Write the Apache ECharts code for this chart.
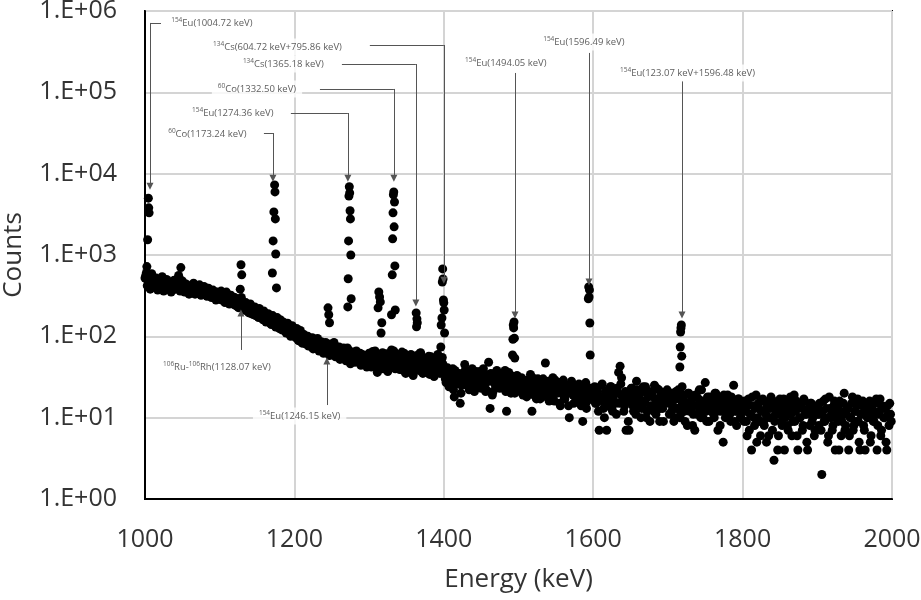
<!DOCTYPE html>
<html>
<head>
<meta charset="utf-8">
<title>Gamma spectrum 1000-2000 keV</title>
<script src="https://cdn.jsdelivr.net/npm/echarts@6/dist/echarts.min.js"></script>
<style>
    html, body { margin: 0; padding: 0; background: #fff; }
    #chart { width: 921px; height: 600px; }
</style>
</head>
<body>
<div id="chart"></div>
<script>
    // continuum counts, one point every 2 keV, arrays named by their first energy
    const bg1000 = [520, 610, 480, 560, 470, 450, 430, 490, 420, 460,
        440, 400, 470, 430, 410, 450, 390, 440, 420, 380,
        430, 460, 400, 520, 700, 480, 410, 380, 420, 370,
        400, 360, 390, 410, 350, 380, 340, 370, 390, 360,
        340, 380, 350, 330, 360, 340, 310, 350, 330, 300];
    const bg1001 = [560, 420, 500, 380, 590, 440, 400, 520, 370, 480,
        410, 540, 360, 450, 500, 390, 470, 350, 430, 490,
        380, 420, 560, 360, 460, 400, 350, 440, 390, 330,
        420, 370, 450, 330, 400, 360, 430, 320, 380, 410,
        350, 310, 390, 360, 300, 370, 330, 280, 350, 310];
    const bg1100 = [320, 360, 290, 340, 280, 320, 265, 305, 285, 250,
        300, 240, 275, 255, 230, 265, 215, 250, 225, 200,
        240, 190, 225, 205, 180, 215, 170, 200, 185, 160,
        195, 150, 180, 165, 145, 175, 150, 135, 165, 140,
        125, 155, 130, 145, 115, 140, 120, 105, 130, 110];
    const bg1101 = [340, 280, 310, 260, 350, 290, 250, 320, 270, 300,
        240, 285, 225, 265, 300, 235, 210, 260, 230, 195,
        250, 215, 185, 230, 200, 175, 220, 190, 165, 205,
        180, 155, 190, 170, 140, 180, 155, 130, 170, 145,
        160, 120, 150, 135, 110, 145, 125, 100, 135, 115];
    const bg1200 = [122, 96, 112, 88, 118, 84, 104, 92, 80, 100,
        88, 76, 96, 80, 72, 90, 78, 68, 86, 74,
        66, 84, 72, 62, 80, 68, 60, 78, 66, 58,
        74, 62, 56, 72, 60, 68, 54, 66, 58, 52,
        64, 54, 60, 50, 62, 56, 48, 58, 52, 55];
    const bg1201 = [108, 125, 90, 110, 95, 82, 105, 88, 96, 76,
        92, 84, 70, 88, 78, 94, 66, 80, 72, 62,
        82, 70, 76, 58, 74, 64, 84, 56, 68, 62,
        52, 70, 60, 64, 50, 72, 58, 46, 62, 55,
        48, 66, 52, 58, 44, 60, 50, 54, 42, 58];
    const bg1300 = [62, 48, 57, 44, 66, 52, 38, 55, 49, 63,
        45, 56, 40, 58, 50, 68, 43, 52, 60, 41,
        54, 47, 64, 38, 56, 42, 52, 48, 60, 36,
        50, 44, 58, 40, 62, 46, 35, 54, 42, 48,
        57, 38, 46, 34, 52, 44, 60, 36, 48, 55];
    const bg1301 = [55, 42, 65, 47, 51, 36, 59, 45, 54, 40,
        48, 61, 37, 56, 44, 52, 66, 40, 49, 58,
        39, 53, 46, 62, 35, 50, 57, 43, 48, 33,
        55, 45, 51, 38, 63, 46, 36, 53, 41, 49,
        34, 56, 44, 32, 51, 40, 47, 35, 52, 45];
    const bg1400 = [42, 30, 38, 26, 34, 24, 40, 18, 35, 28,
        31, 15, 25, 33, 45, 28, 36, 22, 32, 40,
        27, 34, 24, 30, 37, 23, 29, 35, 21, 31,
        48, 13, 33, 21, 29, 36, 25, 27, 32, 24,
        30, 38, 12, 28, 34, 20, 27, 31, 25, 33];
    const bg1401 = [36, 27, 41, 24, 33, 29, 22, 38, 30, 26,
        35, 20, 32, 28, 39, 25, 31, 23, 34, 29,
        21, 37, 27, 32, 24, 30, 40, 26, 22, 33,
        28, 35, 19, 30, 25, 38, 27, 23, 31, 26,
        34, 21, 29, 36, 24, 27, 32, 20, 28, 30];
    const bg1500 = [28, 22, 31, 19, 26, 21, 29, 23, 34, 12,
        27, 24, 17, 30, 22, 26, 18, 25, 47, 21,
        28, 18, 24, 31, 16, 23, 20, 27, 14, 22,
        29, 17, 21, 25, 10, 20, 26, 15, 22, 18,
        24, 19, 14, 9, 21, 27, 16, 20, 23, 17];
    const bg1501 = [25, 30, 20, 27, 23, 18, 29, 22, 26, 31,
        19, 24, 28, 21, 17, 25, 30, 22, 20, 27,
        16, 23, 26, 19, 29, 21, 24, 15, 22, 27,
        18, 25, 20, 14, 23, 28, 19, 21, 17, 24,
        26, 16, 22, 19, 25, 13, 21, 18, 23, 20];
    const bg1600 = [19, 24, 15, 21, 7, 17, 26, 13, 19, 7,
        22, 16, 24, 12, 20, 15, 23, 36, 43, 31,
        18, 14, 7, 20, 7, 16, 23, 12, 19, 28,
        14, 17, 10, 21, 15, 24, 12, 18, 9, 20,
        14, 25, 11, 17, 22, 13, 19, 9, 16, 21];
    const bg1601 = [20, 15, 23, 12, 18, 25, 16, 10, 21, 14,
        19, 24, 13, 17, 22, 11, 20, 15, 26, 18,
        12, 21, 16, 9, 19, 23, 14, 17, 11, 22,
        15, 20, 13, 24, 16, 10, 18, 21, 14, 19,
        12, 17, 23, 15, 9, 20, 13, 18, 16, 22];
    const bg1700 = [17, 11, 20, 14, 9, 18, 13, 22, 10, 16,
        19, 12, 15, 8, 20, 13, 17, 11, 7, 19,
        14, 22, 10, 16, 12, 27, 9, 15, 18, 13,
        17, 10, 20, 12, 15, 8, 18, 5, 14, 11,
        19, 13, 9, 16, 25, 12, 8, 17, 14, 10];
    const bg1701 = [15, 19, 12, 16, 10, 21, 13, 17, 11, 14,
        18, 9, 15, 20, 12, 16, 8, 14, 19, 11,
        17, 13, 22, 10, 15, 12, 18, 9, 16, 14,
        11, 20, 13, 7, 17, 12, 15, 19, 10, 14,
        16, 11, 18, 13, 9, 15, 12, 17, 10, 14];
    const bg1800 = [15, 9, 12, 6, 17, 11, 4, 14, 8, 19,
        10, 13, 6, 16, 9, 12, 5, 15, 10, 18,
        7, 3, 11, 14, 6, 17, 9, 12, 4, 15,
        8, 11, 18, 6, 13, 9, 16, 4, 10, 14,
        7, 17, 11, 5, 13, 8, 15, 10, 6, 12];
    const bg1801 = [12, 16, 9, 14, 7, 11, 18, 10, 13, 5,
        15, 9, 12, 17, 8, 11, 14, 6, 13, 10,
        16, 9, 12, 4, 14, 11, 8, 17, 10, 13,
        7, 15, 11, 9, 19, 12, 6, 14, 10, 13,
        8, 16, 11, 4, 12, 15, 9, 13, 7, 11];
    const bg1900 = [14, 8, 11, 2, 16, 9, 13, 5, 18, 10,
        7, 14, 4, 12, 9, 16, 6, 11, 20, 8,
        13, 4, 10, 15, 7, 12, 9, 17, 5, 11,
        14, 8, 4, 13, 10, 16, 6, 12, 9, 15,
        4, 11, 17, 7, 13, 10, 5, 14, 8, 11];
    const bg1901 = [11, 15, 7, 12, 9, 17, 10, 6, 13, 11,
        8, 16, 10, 14, 4, 12, 9, 15, 7, 11,
        13, 6, 10, 18, 8, 12, 14, 9, 4, 11,
        16, 7, 12, 10, 15, 5, 13, 9, 11, 17,
        8, 12, 6, 14, 10, 13, 4, 11, 15, 9];
    const bgStarts = [1000, 1001, 1100, 1101, 1200, 1201, 1300, 1301, 1400, 1401, 1500, 1501,
        1600, 1601, 1700, 1701, 1800, 1801, 1900, 1901];
    const bgBlocks = [bg1000, bg1001, bg1100, bg1101, bg1200, bg1201, bg1300, bg1301, bg1400, bg1401,
        bg1500, bg1501, bg1600, bg1601, bg1700, bg1701, bg1800, bg1801, bg1900, bg1901];
    const stepKeV = 2;

    // photopeak channels (keV, counts)
    const peakEnergies = [1002.5, 1003.5, 1004.5, 1005, 1005.5,
        1127.5, 1128.5, 1129.5,
        1170.5, 1171.5, 1172.5, 1173.5, 1174, 1174.5, 1175, 1176,
        1245, 1246, 1247,
        1271.5, 1272, 1272.5, 1273, 1273.5, 1274, 1274.5, 1275, 1275.5, 1276,
        1312, 1313, 1314, 1315, 1316, 1317,
        1330, 1331, 1331.5, 1332, 1332.5, 1333, 1333.5, 1334, 1334.5, 1335,
        1363, 1363.5, 1364, 1364.5,
        1396, 1396.5, 1397.5, 1398, 1398.5, 1399, 1399.5, 1400, 1400.5, 1401,
        1492, 1492.5, 1493, 1493.5, 1494, 1494.5, 1495,
        1593.5, 1594, 1594.5, 1595, 1595.5, 1596,
        1716, 1716.5, 1717, 1717.5, 1718, 1718.5, 1719];
    const peakCounts = [720, 1540, 5000, 3800, 3300,
        380, 760, 570,
        600, 1490, 3390, 7280, 5970, 2780, 1030, 394,
        224, 184, 147,
        230, 510, 1490, 5300, 6900, 5800, 3500, 2780, 1000, 290,
        224, 352, 305, 265, 110, 147,
        184, 570, 1580, 3300, 5490, 5970, 2220, 4490, 734, 211,
        194, 131, 164, 147,
        74, 138, 168, 466, 675, 508, 280, 258, 211, 110,
        59, 92, 138, 127, 150, 95, 54,
        290, 405, 305, 372, 146, 59,
        42, 74, 113, 127, 138, 57, 24];

    // annotations: label (superscript, text) pieces, label anchor, leader line ending in an arrow
    const notes = [
        {parts: [['154', 'Eu(1004.72 keV)']], at: [1027, 713000],
            path: [[1021.4, 713000], [1006.7, 713000], [1006.7, 7000]]},
        {parts: [['134', 'Cs(604.72 keV+795.86 keV)']], at: [1083, 361000],
            path: [[1301, 382000], [1400.1, 382000], [1400.1, 490]]},
        {parts: [['134', 'Cs(1365.18 keV)']], at: [1123, 223000],
            path: [[1263.6, 223000], [1362.6, 223000], [1362.6, 257]]},
        {parts: [['60', 'Co(1332.50 keV)']], at: [1089.5, 110000],
            path: [[1234.2, 110000], [1333.2, 110000], [1333.2, 8800]]},
        {parts: [['154', 'Eu(1274.36 keV)']], at: [1055, 55700],
            path: [[1195.3, 55700], [1271.6, 55700], [1271.6, 8800]]},
        {parts: [['60', 'Co(1173.24 keV)']], at: [1023, 30800],
            path: [[1159.2, 31600], [1171.3, 31600], [1171.3, 8800]]},
        {parts: [['154', 'Eu(1494.05 keV)']], at: [1420.5, 229000],
            path: [[1495.3, 173000], [1495.3, 183]]},
        {parts: [['154', 'Eu(1596.49 keV)']], at: [1525, 416000],
            path: [[1594.4, 305000], [1594.4, 466]]},
        {parts: [['154', 'Eu(123.07 keV+1596.48 keV)']], at: [1628, 173000],
            path: [[1718.9, 138000], [1718.9, 183]]},
        {parts: [['106', 'Ru-'], ['106', 'Rh(1128.07 keV)']], at: [1016, 42],
            path: [[1128.4, 68], [1128.4, 194]]},
        {parts: [['154', 'Eu(1246.15 keV)']], at: [1144.5, 10.5],
            path: [[1243.5, 14.3], [1243.5, 49.8]]}
    ];

    let points = [];
    bgBlocks.forEach(function (block, b) {
        block.forEach(function (c, i) {
            points.push([bgStarts[b] + stepKeV * i, c]);
        });
    });
    peakEnergies.forEach(function (e, i) {
        points.push([e, peakCounts[i]]);
    });

    let plainSegs = [];
    let arrowSegs = [];
    let labelData = [];
    notes.forEach(function (n) {
        for (let i = 0; i < n.path.length - 1; i++) {
            let seg = {coords: [n.path[i], n.path[i + 1]]};
            if (i === n.path.length - 2) arrowSegs.push(seg); else plainSegs.push(seg);
        }
        let txt = n.parts.map(function (p) {
            return '{s|' + p[0] + '}{t|' + p[1] + '}';
        }).join('');
        labelData.push({value: n.at, txt: txt});
    });

    let myChart = echarts.init(document.getElementById('chart'));
    const fontFam = '"Open Sans", "Noto Sans", sans-serif';
    myChart.setOption({
        animation: false,
        grid: {
            left: 145, right: 29, top: 11, bottom: 101, containLabel: false, outerBoundsMode: 'none',
            show: true, borderColor: '#000', borderWidth: 2
        },
        xAxis: {
            type: 'value', min: 1000, max: 2000, interval: 200,
            name: 'Energy (keV)', nameLocation: 'middle', nameGap: 68,
            nameTextStyle: {fontSize: 26, color: '#333', fontFamily: fontFam},
            axisLine: {lineStyle: {color: '#000', width: 2}},
            axisTick: {show: false},
            axisLabel: {
                fontSize: 25, color: '#333', fontFamily: fontFam, margin: 28,
                formatter: function (v) { return String(v); }
            },
            splitLine: {lineStyle: {color: '#d4d4d4', width: 2}}
        },
        yAxis: {
            type: 'log', logBase: 10, min: 1, max: 1000000, interval: 1,
            name: 'Counts', nameLocation: 'middle', nameGap: 118,
            nameTextStyle: {fontSize: 26, color: '#333', fontFamily: fontFam},
            axisLine: {show: true, lineStyle: {color: '#000', width: 2}},
            axisTick: {show: false},
            minorTick: {show: false},
            axisLabel: {
                fontSize: 25, color: '#333', fontFamily: fontFam, margin: 28,
                formatter: function (v) {
                    let p = Math.round(Math.log10(v));
                    return '1.E+' + (p < 10 ? '0' : '') + p;
                }
            },
            splitLine: {lineStyle: {color: '#d4d4d4', width: 2}}
        },
        series: [
            {
                type: 'scatter', name: 'Counts', data: points,
                symbol: 'circle', symbolSize: 9,
                itemStyle: {color: '#000', opacity: 1}, z: 3
            },
            {
                type: 'lines', coordinateSystem: 'cartesian2d', data: plainSegs,
                symbol: ['none', 'none'],
                lineStyle: {color: '#555', width: 1, opacity: 1}, z: 4
            },
            {
                type: 'lines', coordinateSystem: 'cartesian2d', data: arrowSegs,
                symbol: ['none', 'triangle'], symbolSize: [7, 7],
                lineStyle: {color: '#555', width: 1, opacity: 1}, z: 4
            },
            {
                type: 'scatter', data: labelData, symbolSize: 0, z: 5, silent: true,
                label: {
                    show: true, position: 'right', distance: 0,
                    backgroundColor: '#fff', padding: [2, 6],
                    formatter: function (p) { return p.data.txt; },
                    rich: {
                        s: {fontSize: 6.5, color: '#333', fontFamily: fontFam, verticalAlign: 'top', lineHeight: 11},
                        t: {fontSize: 9.5, color: '#333', fontFamily: fontFam, lineHeight: 13}
                    }
                }
            }
        ]
    });
</script>
</body>
</html>
